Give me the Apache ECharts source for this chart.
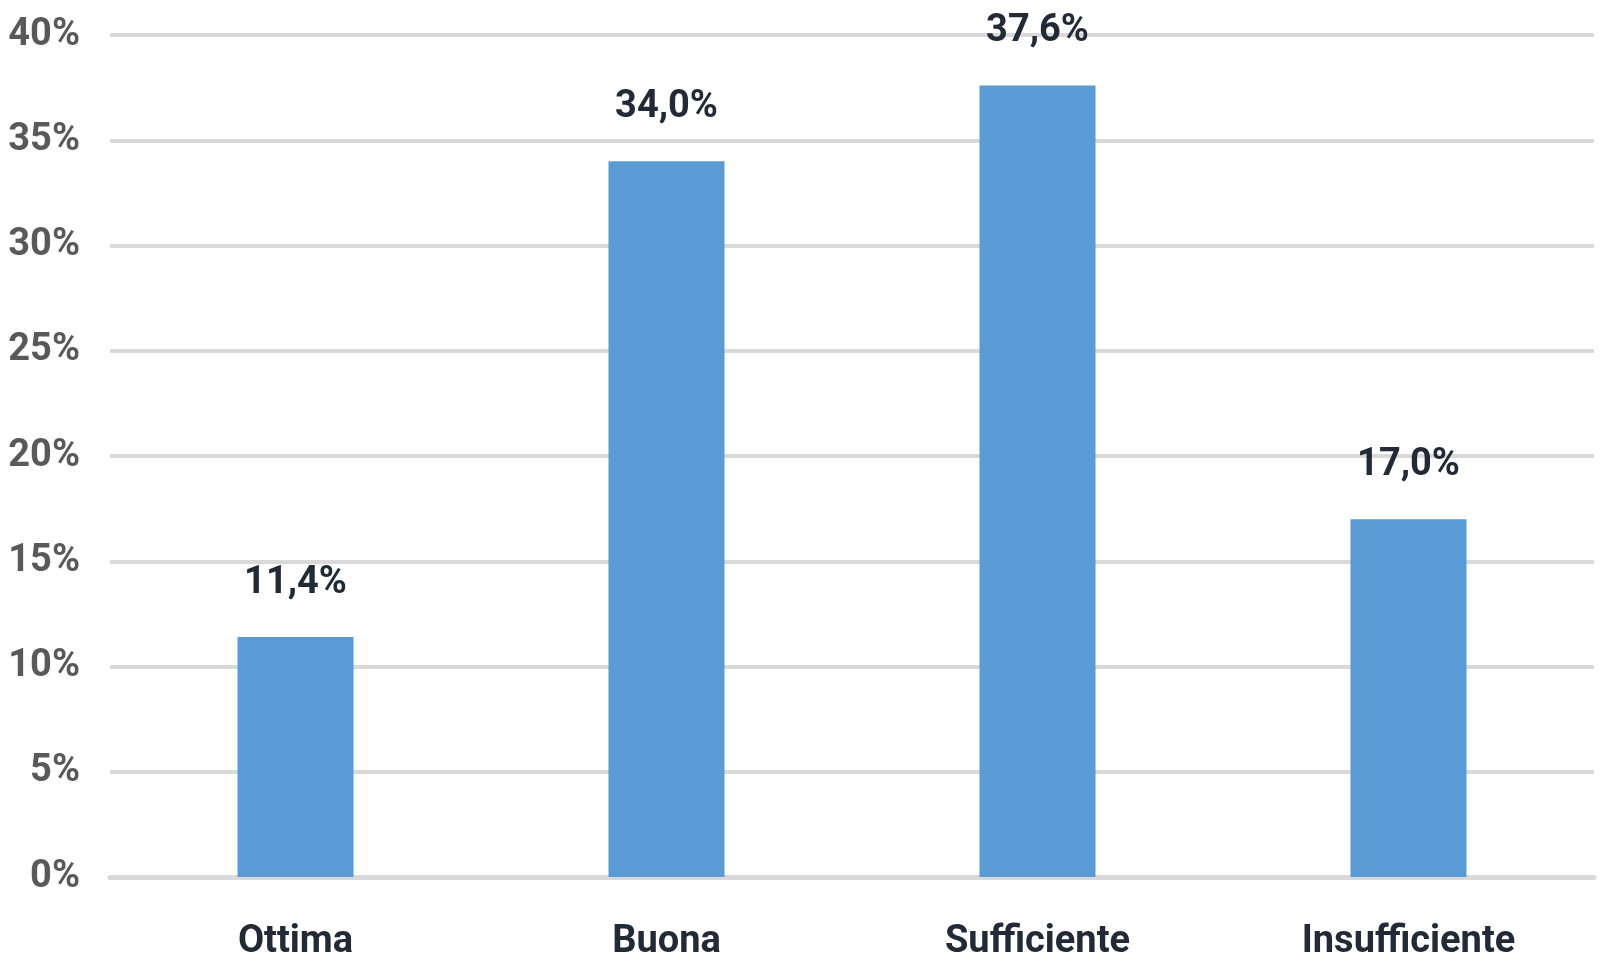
<!DOCTYPE html>
<html>
<head>
<meta charset="utf-8">
<script src="https://cdn.jsdelivr.net/npm/echarts@6/dist/echarts.min.js"></script>
<style>
  html, body { margin: 0; padding: 0; background: #fff; }
  #chart { width: 1602px; height: 967px; }
</style>
</head>
<body>
<div id="chart"></div>
<script>
// dati
const categories = ['Ottima', 'Buona', 'Sufficiente', 'Insufficiente'];
const values = [11.4, 34.0, 37.6, 17.0];
const yTicks = [0, 5, 10, 15, 20, 25, 30, 35, 40];

const font = 'Roboto, "Liberation Sans", sans-serif';

const myChart = echarts.init(document.getElementById('chart'));

myChart.setOption({
  animation: false,
  grid: {
    left: 110,
    right: 8,
    top: 35,
    bottom: 90,
    containLabel: false,
    outerBoundsMode: 'none'
  },
  xAxis: {
    type: 'category',
    data: categories,
    axisTick: { show: false },
    axisLine: { show: true, lineStyle: { color: '#d9d9d9', width: 5 } },
    axisLabel: {
      margin: 46,
      color: '#222a35',
      fontFamily: font,
      fontWeight: 'bold',
      fontSize: 38
    }
  },
  yAxis: {
    type: 'value',
    min: yTicks[0],
    max: yTicks[yTicks.length - 1],
    interval: 5,
    axisLine: { show: false },
    axisTick: { show: false },
    splitLine: { lineStyle: { color: '#d9d9d9', width: 4 } },
    axisLabel: {
      margin: 30,
      color: '#595959',
      fontFamily: font,
      fontWeight: 'bold',
      fontSize: 38,
      formatter: v => v + '%'
    }
  },
  series: [{
    type: 'bar',
    data: values,
    barWidth: 116,
    itemStyle: { color: '#5b9bd5' },
    label: {
      show: true,
      position: 'top',
      distance: 35,
      color: '#222a35',
      fontFamily: font,
      fontWeight: 'bold',
      fontSize: 38,
      formatter: p => p.value.toFixed(1).replace('.', ',') + '%'
    }
  }]
});
</script>
</body>
</html>
